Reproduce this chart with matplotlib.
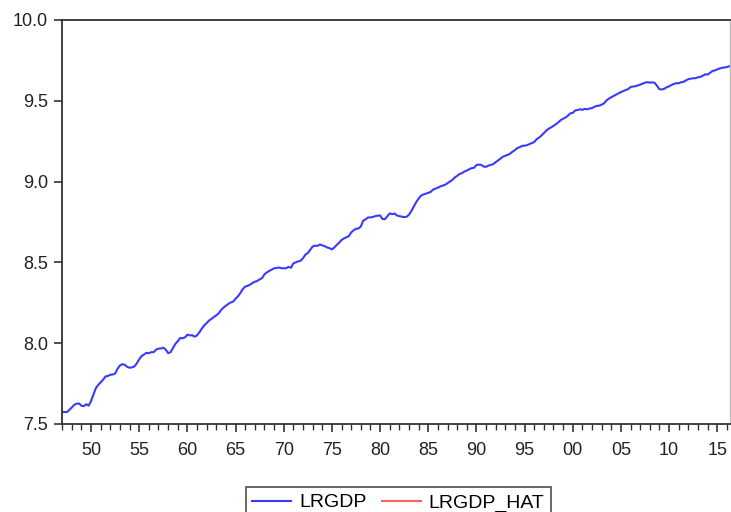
import numpy as np
import matplotlib.pyplot as plt
from matplotlib.ticker import MultipleLocator, FixedLocator

plt.rcParams['font.family'] = ['Liberation Sans', 'DejaVu Sans']

# log real GDP, quarterly 1947Q1 - 2016Q2 (one row per year)
lrgdp = [
    7.575, 7.574, 7.573, 7.587,  # 1947
    7.602, 7.618, 7.625, 7.627,  # 1948
    7.613, 7.610, 7.622, 7.613,  # 1949
    7.642, 7.682, 7.722, 7.742,  # 1950
    7.757, 7.774, 7.794, 7.797,  # 1951
    7.804, 7.806, 7.812, 7.842,  # 1952
    7.862, 7.870, 7.866, 7.853,  # 1953
    7.848, 7.850, 7.856, 7.875,  # 1954
    7.900, 7.920, 7.930, 7.940,  # 1955
    7.938, 7.944, 7.944, 7.960,  # 1956
    7.966, 7.967, 7.972, 7.960,  # 1957
    7.938, 7.944, 7.970, 7.995,  # 1958
    8.012, 8.032, 8.030, 8.036,  # 1959
    8.052, 8.048, 8.049, 8.040,  # 1960
    8.048, 8.068, 8.090, 8.110,  # 1961
    8.124, 8.140, 8.150, 8.162,  # 1962
    8.172, 8.185, 8.205, 8.220,  # 1963
    8.232, 8.243, 8.252, 8.257,  # 1964
    8.275, 8.290, 8.310, 8.335,  # 1965
    8.350, 8.355, 8.362, 8.372,  # 1966
    8.380, 8.385, 8.395, 8.402,  # 1967
    8.426, 8.438, 8.447, 8.455,  # 1968
    8.463, 8.465, 8.468, 8.464,  # 1969
    8.463, 8.464, 8.472, 8.466,  # 1970
    8.494, 8.500, 8.506, 8.510,  # 1971
    8.525, 8.548, 8.558, 8.578,  # 1972
    8.598, 8.603, 8.602, 8.610,  # 1973
    8.605, 8.600, 8.592, 8.588,  # 1974
    8.580, 8.592, 8.608, 8.622,  # 1975
    8.638, 8.648, 8.655, 8.662,  # 1976
    8.685, 8.698, 8.708, 8.709,  # 1977
    8.722, 8.758, 8.766, 8.778,  # 1978
    8.778, 8.781, 8.786, 8.789,  # 1979
    8.790, 8.768, 8.767, 8.785,  # 1980
    8.803, 8.798, 8.802, 8.790,  # 1981
    8.786, 8.783, 8.780, 8.782,  # 1982
    8.795, 8.818, 8.845, 8.872,  # 1983
    8.895, 8.913, 8.920, 8.925,  # 1984
    8.930, 8.936, 8.950, 8.956,  # 1985
    8.962, 8.970, 8.975, 8.980,  # 1986
    8.990, 9.000, 9.010, 9.025,  # 1987
    9.035, 9.047, 9.052, 9.062,  # 1988
    9.068, 9.076, 9.083, 9.085,  # 1989
    9.102, 9.105, 9.103, 9.093,  # 1990
    9.091, 9.099, 9.103, 9.108,  # 1991
    9.120, 9.131, 9.142, 9.154,  # 1992
    9.160, 9.165, 9.173, 9.185,  # 1993
    9.195, 9.207, 9.213, 9.221,  # 1994
    9.222, 9.225, 9.232, 9.238,  # 1995
    9.245, 9.262, 9.272, 9.285,  # 1996
    9.300, 9.315, 9.327, 9.335,  # 1997
    9.345, 9.355, 9.367, 9.380,  # 1998
    9.389, 9.396, 9.408, 9.422,  # 1999
    9.425, 9.440, 9.443, 9.447,  # 2000
    9.444, 9.450, 9.447, 9.452,  # 2001
    9.455, 9.463, 9.468, 9.470,  # 2002
    9.476, 9.484, 9.502, 9.513,  # 2003
    9.522, 9.530, 9.538, 9.546,  # 2004
    9.554, 9.560, 9.567, 9.572,  # 2005
    9.585, 9.588, 9.590, 9.595,  # 2006
    9.600, 9.606, 9.612, 9.615,  # 2007
    9.612, 9.614, 9.611, 9.592,  # 2008
    9.571, 9.570, 9.574, 9.584,  # 2009
    9.589, 9.598, 9.604, 9.609,  # 2010
    9.608, 9.615, 9.617, 9.626,  # 2011
    9.634, 9.637, 9.639, 9.640,  # 2012
    9.645, 9.648, 9.655, 9.664,  # 2013
    9.662, 9.673, 9.684, 9.688,  # 2014
    9.694, 9.700, 9.704, 9.706,  # 2015
    9.709, 9.713,                # 2016
]
start_year = 1947
tick_years = [1950, 1955, 1960, 1965, 1970, 1975, 1980, 1985, 1990,
              1995, 2000, 2005, 2010, 2015]
tick_labels = ['50', '55', '60', '65', '70', '75', '80', '85', '90',
               '95', '00', '05', '10', '15']

t = start_year + np.arange(len(lrgdp)) / 4.0

fig = plt.figure(figsize=(7.31, 5.12), dpi=100)
ax = fig.add_axes([0.085, 0.172, 0.914, 0.789])

ax.plot(t, lrgdp, color='#3a3aff', lw=1.5, label='LRGDP')
ax.plot([], [], color='#ff6060', lw=1.5, label='LRGDP_HAT')

ax.set_xlim(1947, 2016.35)
ax.set_ylim(7.5, 10.0)
ax.set_yticks([7.5, 8.0, 8.5, 9.0, 9.5, 10.0])
ax.xaxis.set_major_locator(FixedLocator(tick_years))
ax.set_xticklabels(tick_labels)
ax.xaxis.set_minor_locator(MultipleLocator(1))

for s in ['left', 'bottom', 'top']:
    ax.spines[s].set_color('#333333')
    ax.spines[s].set_linewidth(1.3)
ax.spines['right'].set_color('#bbbbbb')
ax.spines['right'].set_linewidth(1.0)

ax.tick_params(axis='both', which='major', direction='out', length=6,
               width=1.2, color='#333333', labelsize=13, labelcolor='#222222')
ax.tick_params(axis='x', which='minor', direction='out', length=4,
               width=1.0, color='#333333')
ax.tick_params(axis='x', pad=7)
ax.tick_params(axis='y', pad=4)

leg = fig.legend(loc='upper center', bbox_to_anchor=(0.545, 0.049), ncol=2,
                 frameon=True, fancybox=False, fontsize=14,
                 handlelength=2.0, handletextpad=0.4, columnspacing=0.8,
                 borderpad=0.35, borderaxespad=0)
leg.get_frame().set_edgecolor('#333333')
leg.get_frame().set_linewidth(1.3)

fig.savefig('out.png', dpi=100)
